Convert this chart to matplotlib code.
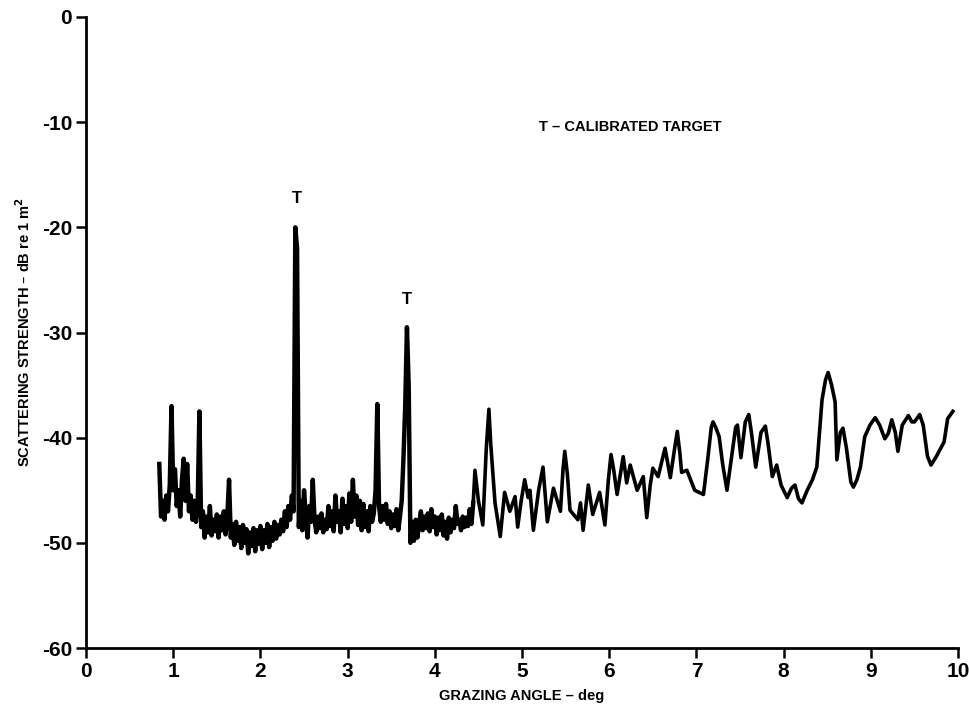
import numpy as np
import matplotlib.pyplot as plt

# dense low-angle part of the trace, sampled every 0.02 deg from 0.84 to 4.44
dense_start, dense_end = 0.84, 4.44
dense_y = [
    -42.5, -47.5, -46.0, -47.8, -45.5, -47.0, -44.5, -37.0, -45.0, -43.0,
    -46.5, -45.0, -47.5, -44.0, -42.0, -46.0, -42.5, -47.0, -45.5, -47.8,
    -46.0, -48.0, -46.5, -37.5, -48.5, -47.0, -49.5, -47.5, -49.0, -46.5,
    -49.3, -47.8, -48.9, -47.3, -49.5, -47.5, -48.8, -47.0, -49.2, -47.5,
    -44.0, -49.5, -48.2, -50.2, -48.0, -49.8, -48.5, -50.5, -48.3, -50.0,
    -48.7, -51.0, -49.0, -50.3, -48.6, -50.8, -48.8, -50.1, -48.4, -50.6,
    -48.8, -50.0, -48.2, -50.4, -48.5, -49.8, -48.0, -49.6, -48.3, -49.2,
    -47.8, -48.9, -47.0, -48.5, -46.5, -47.8, -45.5, -47.0, -20.0, -22.0,
    -48.5, -46.0, -48.8, -45.0, -47.5, -49.5, -46.5, -48.0, -44.0, -47.8,
    -49.0, -47.5, -48.6, -47.2, -49.0, -47.8, -48.7, -46.5, -48.4, -47.0,
    -48.9, -45.5, -48.0, -47.0, -49.0, -45.8, -48.2, -46.5, -48.6, -45.3,
    -48.0, -44.0, -47.5, -45.5, -48.3, -46.0, -48.8, -46.3, -48.5, -47.0,
    -48.9, -46.5, -48.0, -47.2, -45.0, -36.8, -46.5, -48.0, -46.5, -47.8,
    -46.3, -48.2, -47.0, -48.6, -47.3, -48.4, -46.8, -48.8, -47.5, -46.0,
    -42.0, -37.0, -29.5, -35.0, -50.0, -48.0, -49.8, -47.8, -49.5, -48.2,
    -47.0, -48.8, -47.5, -48.6, -47.2, -48.9, -46.8, -48.5, -47.5, -49.2,
    -47.6, -48.8, -47.3, -49.3, -48.0, -49.6, -47.6, -49.0, -47.8, -48.6,
    -46.5, -48.2, -47.8, -48.8, -47.5, -48.5, -47.6, -48.4, -46.8, -48.2,
    -46.2,
]

# smoother high-angle part
smooth_x = [4.46, 4.50, 4.55, 4.59, 4.62, 4.64, 4.69, 4.75, 4.80, 4.86,
            4.92, 4.95, 4.99, 5.03, 5.07, 5.09, 5.13, 5.19, 5.24, 5.29,
            5.36, 5.44, 5.47, 5.49, 5.52, 5.55, 5.64, 5.67, 5.70, 5.76,
            5.81, 5.89, 5.95, 5.99, 6.02, 6.05, 6.09, 6.16, 6.20, 6.24,
            6.32, 6.39, 6.43, 6.47, 6.50, 6.56, 6.64, 6.70, 6.75, 6.78,
            6.81, 6.83, 6.89, 6.98, 7.08, 7.13, 7.17, 7.19, 7.22, 7.26,
            7.30, 7.35, 7.40, 7.45, 7.47, 7.51, 7.56, 7.60, 7.63, 7.68,
            7.74, 7.79, 7.82, 7.87, 7.92, 7.97, 8.04, 8.09, 8.13, 8.17,
            8.21, 8.27, 8.33, 8.38, 8.44, 8.48, 8.51, 8.55, 8.59, 8.61,
            8.65, 8.68, 8.72, 8.77, 8.80, 8.84, 8.88, 8.93, 8.99, 9.05,
            9.10, 9.16, 9.20, 9.24, 9.28, 9.31, 9.36, 9.43, 9.47, 9.50,
            9.56, 9.60, 9.65, 9.69, 9.75, 9.84, 9.88, 9.94]
smooth_y = [-43.1, -46.0, -48.3, -41.0, -37.3, -40.5, -46.2, -49.4, -45.2, -47.0,
            -45.6, -48.5, -46.0, -44.0, -45.7, -45.0, -48.8, -45.0, -42.8, -48.0,
            -44.8, -47.0, -43.0, -41.3, -43.5, -46.9, -47.8, -46.2, -48.8, -44.5,
            -47.3, -45.2, -48.3, -44.0, -41.6, -43.0, -45.4, -41.8, -44.3, -42.6,
            -45.0, -43.7, -47.6, -44.5, -42.9, -43.7, -41.0, -43.8, -41.0, -39.4,
            -41.5, -43.3, -43.1, -45.0, -45.4, -42.0, -39.0, -38.5, -39.0, -39.9,
            -42.5, -45.0, -42.0, -39.0, -38.8, -41.9, -38.5, -37.8, -39.5, -42.8,
            -39.5, -38.9, -40.5, -43.7, -42.6, -44.5, -45.7, -44.8, -44.5, -45.8,
            -46.2, -45.0, -44.0, -42.8, -36.4, -34.5, -33.8, -35.0, -36.6, -42.1,
            -39.5, -39.1, -41.0, -44.2, -44.7, -44.0, -42.8, -39.9, -38.8, -38.1,
            -38.8, -40.1, -39.6, -38.3, -39.5, -41.3, -38.8, -37.9, -38.5, -38.5,
            -37.8, -38.8, -41.8, -42.6, -41.8, -40.4, -38.2, -37.5]

x_ticks = [0, 1, 2, 3, 4, 5, 6, 7, 8, 9, 10]
y_ticks = [0, -10, -20, -30, -40, -50, -60]
target_x = [2.42, 3.68]
target_y = [-17.3, -26.9]

dense_x = np.linspace(dense_start, dense_end, len(dense_y))

plt.rcParams['font.family'] = ['Liberation Sans', 'DejaVu Sans']
fig = plt.figure(figsize=(9.7, 7.14), dpi=100)
ax = fig.add_axes([0.0887, 0.0924, 0.899, 0.8838])

# noisy part drawn heavier, like the solid band on the original record
ax.plot(dense_x, dense_y, color='black', lw=3.2, solid_joinstyle='round')
ax.plot(np.concatenate([dense_x[-1:], smooth_x]),
        np.concatenate([dense_y[-1:], smooth_y]),
        color='black', lw=2.6, solid_joinstyle='round')

for tx, ty in zip(target_x, target_y):
    ax.text(tx, ty, 'T', ha='center', va='center', fontsize=12, fontweight='bold')
ax.text(5.2, -10.5, 'T \u2013 CALIBRATED TARGET', ha='left', va='center',
        fontsize=10.5, fontweight='bold')

ax.set_xlim(0, 10)
ax.set_ylim(-60, 0)
ax.set_xticks(x_ticks)
ax.set_xticklabels([str(t) for t in x_ticks])
ax.set_yticks(y_ticks)
ax.set_yticklabels([str(t) for t in y_ticks])
for side in ['top', 'right']:
    ax.spines[side].set_visible(False)
for side in ['left', 'bottom']:
    ax.spines[side].set_linewidth(2)
ax.tick_params(direction='out', length=7, width=1.8, labelsize=15, pad=3)
for lab in ax.get_xticklabels() + ax.get_yticklabels():
    lab.set_fontweight('bold')

ax.set_xlabel('GRAZING ANGLE \u2013 deg', fontsize=10.5, fontweight='bold', labelpad=6)
ax.set_ylabel('SCATTERING STRENGTH \u2013 dB re 1 m$^\\mathbf{2}$', fontsize=10.5,
              fontweight='bold', labelpad=6)

fig.savefig('out.png', dpi=100)
